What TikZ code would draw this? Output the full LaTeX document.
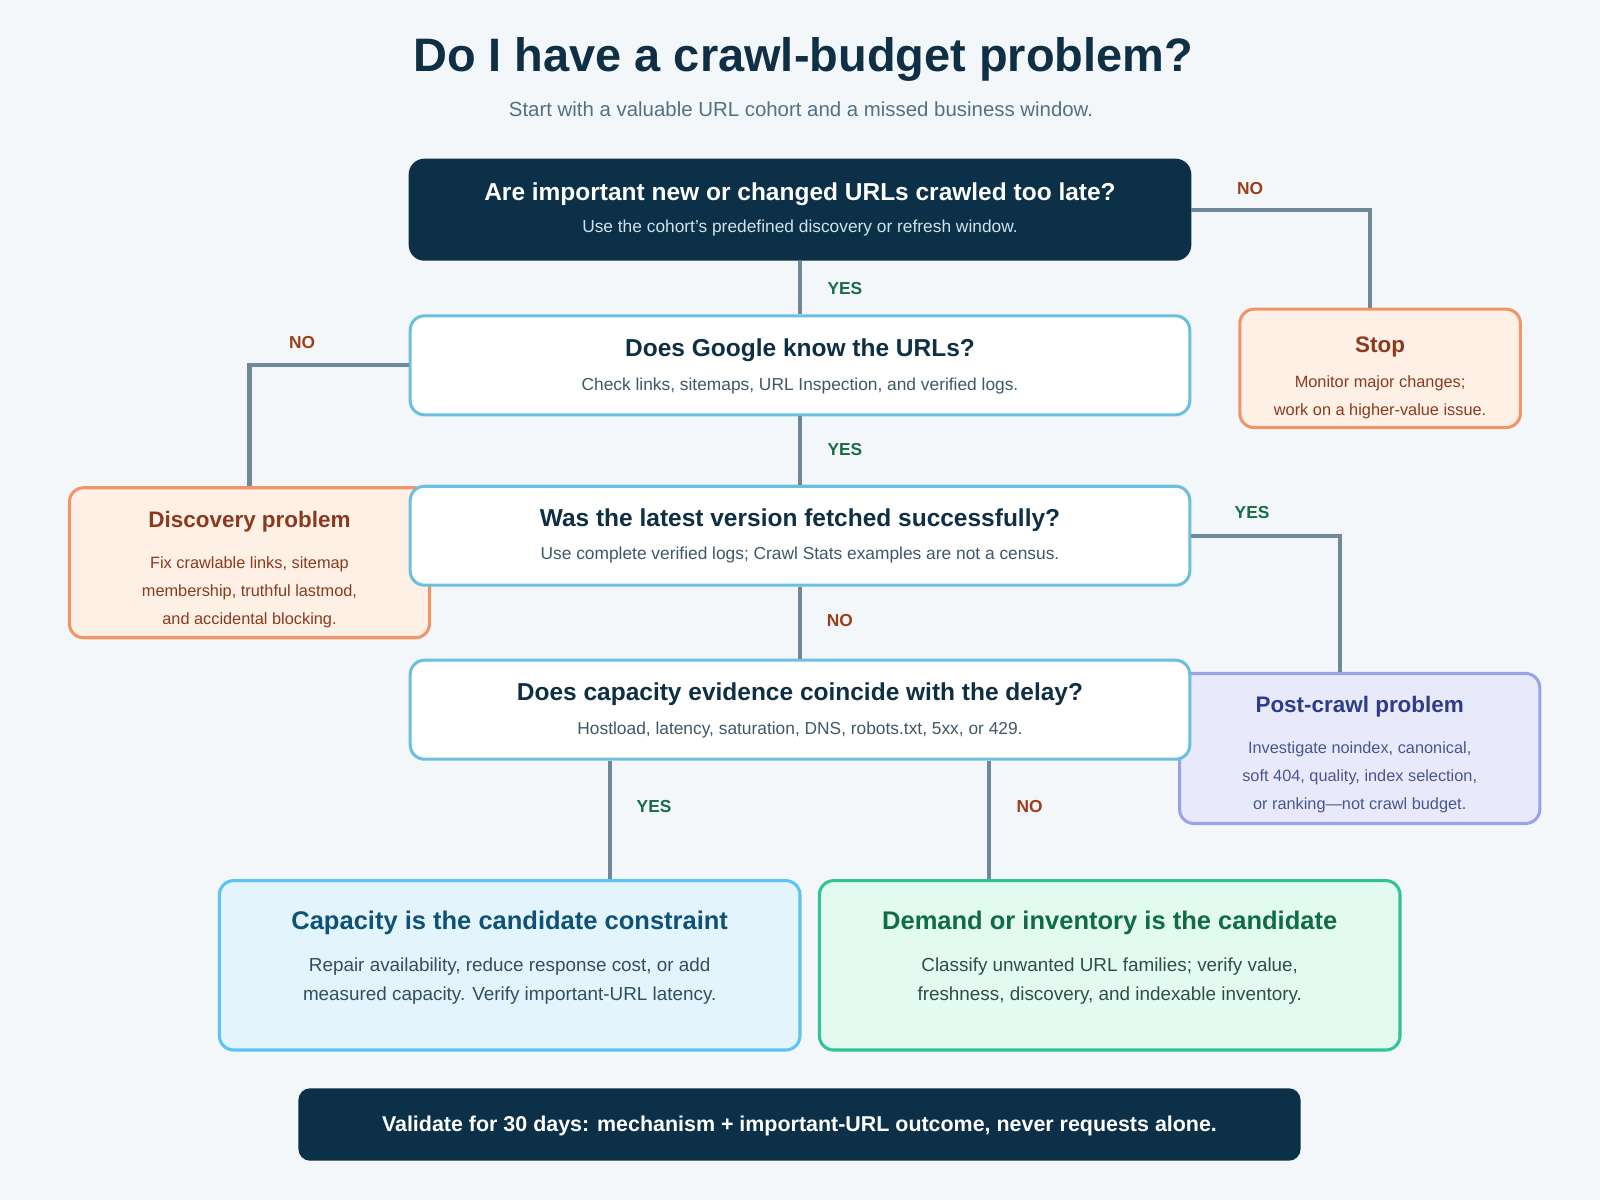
\documentclass[tikz,border=0pt]{standalone}
\usepackage{fontspec}
\setmainfont{Liberation Sans}
\begin{document}
\begin{tikzpicture}[x=1pt,y=-1pt,
 box/.style={draw,line width=3pt,rounded corners=14pt,inner sep=0pt},
 qbox/.style={box,draw=qb,fill=white,minimum width=764pt,minimum height=97pt},
 conn/.style={draw=cn,line width=4pt},
 yes/.style={font=\bfseries\fontsize{17}{20}\selectfont,text=yesc},
 no/.style={font=\bfseries\fontsize{17}{20}\selectfont,text=noc},
 qt/.style={font=\bfseries\fontsize{24}{28}\selectfont,text=qtc},
 qs/.style={font=\fontsize{17}{20}\selectfont,text=qsc},
 st/.style={font=\bfseries\fontsize{22}{26}\selectfont},
 bt/.style={font=\bfseries\fontsize{25}{30}\selectfont},
 sb/.style={font=\fontsize{16}{27.5}\selectfont,align=center},
 bb/.style={font=\fontsize{18.5}{29}\selectfont,align=center}]
\definecolor{bg}{HTML}{F3F7FA}\definecolor{dark}{HTML}{0B3047}
\definecolor{qb}{HTML}{6BBFE0}\definecolor{cn}{HTML}{6E8A99}
\definecolor{qtc}{HTML}{0E2F44}\definecolor{qsc}{HTML}{3F5866}
\definecolor{yesc}{HTML}{1A6B48}\definecolor{noc}{HTML}{9A3F1A}
\definecolor{subc}{HTML}{557080}\definecolor{dsub}{HTML}{CFE3EE}
\definecolor{orf}{HTML}{FFF0E6}\definecolor{ord}{HTML}{F0956A}\definecolor{ort}{HTML}{8B3A1E}
\definecolor{puf}{HTML}{E8EAFC}\definecolor{pud}{HTML}{9AA2E8}\definecolor{put}{HTML}{2E3A8A}\definecolor{pub}{HTML}{4A5590}
\definecolor{blf}{HTML}{E3F4FD}\definecolor{bld}{HTML}{5BC3F5}\definecolor{blt}{HTML}{0F5278}\definecolor{blb}{HTML}{334E5E}
\definecolor{grf}{HTML}{E3FAF1}\definecolor{grd}{HTML}{2EC493}\definecolor{grt}{HTML}{0F6B4A}\definecolor{grb}{HTML}{2F4F46}
\fill[bg] (0,0) rectangle (1568,1176);
\useasboundingbox (0,0) rectangle (1568,1176);
\node[font=\bfseries\fontsize{46}{52}\selectfont,text=qtc] (title) at (787,58) {Do I have a crawl-budget problem?};
\node[font=\fontsize{20}{24}\selectfont,text=subc] (subtitle) at (785,107) {Start with a valuable URL cohort and a missed business window.};
% side boxes
\node[box,draw=ord,fill=orf,minimum width=275pt,minimum height=116pt] (stop) at (1352.5,361) {};
\node[st,text=ort] (stopt) at (1352.5,340) {Stop};
\node[sb,text=ort] (stopb) at (1352.5,389) {Monitor major changes;\\work on a higher-value issue.};
\node[box,draw=ord,fill=orf,minimum width=353pt,minimum height=147pt] (disc) at (244.5,551.5) {};
\node[st,text=ort] (disct) at (244.5,511) {Discovery problem};
\node[sb,text=ort] (discb) at (244.5,580) {Fix crawlable links, sitemap\\membership, truthful lastmod,\\and accidental blocking.};
\node[box,draw=pud,fill=puf,minimum width=353pt,minimum height=147pt] (post) at (1332.5,733.5) {};
\node[st,text=put] (postt) at (1332.5,693) {Post-crawl problem};
\node[sb,text=pub] (postb) at (1332.5,762) {Investigate noindex, canonical,\\soft 404, quality, index selection,\\or ranking---not crawl budget.};
% questions
\node[box,draw=dark,fill=dark,minimum width=764pt,minimum height=97pt] (q1) at (784,205.5) {};
\node[qt,text=white] (q1t) at (784,190) {Are important new or changed URLs crawled too late?};
\node[qs,text=dsub] (q1s) at (784,223) {Use the cohort’s predefined discovery or refresh window.};
\node[qbox] (q2) at (784,358) {};
\node[qt] (q2t) at (784,343) {Does Google know the URLs?};
\node[qs] (q2s) at (784,378) {Check links, sitemaps, URL Inspection, and verified logs.};
\node[qbox] (q3) at (784,525) {};
\node[qt] (q3t) at (784,510) {Was the latest version fetched successfully?};
\node[qs] (q3s) at (784,544) {Use complete verified logs; Crawl Stats examples are not a census.};
\node[qbox] (q4) at (784,695.5) {};
\node[qt] (q4t) at (784,680) {Does capacity evidence coincide with the delay?};
\node[qs] (q4s) at (784,715) {Hostload, latency, saturation, DNS, robots.txt, 5xx, or 429.};
% bottom boxes
\node[box,draw=bld,fill=blf,minimum width=569pt,minimum height=166pt] (cap) at (499.5,946) {};
\node[bt,text=blt] (capt) at (499.5,904) {Capacity is the candidate constraint};
\node[bb,text=blb] (capb) at (499.5,961.5) {Repair availability, reduce response cost, or add\\measured capacity. Verify important-URL latency.};
\node[box,draw=grd,fill=grf,minimum width=569pt,minimum height=166pt] (dem) at (1087.5,946) {};
\node[bt,text=grt] (demt) at (1087.5,904) {Demand or inventory is the candidate};
\node[bb,text=grb] (demb) at (1087.5,961.5) {Classify unwanted URL families; verify value,\\freshness, discovery, and indexable inventory.};
\node[box,draw=dark,fill=dark,rounded corners=10pt,minimum width=979pt,minimum height=68pt] (foot) at (783.5,1102) {};
\node[font=\bfseries\fontsize{21}{25}\selectfont,text=white] (foott) at (783.5,1103) {Validate for 30 days: mechanism + important-URL outcome, never requests alone.};
% connectors
\begin{scope}[on background layer/.style={}]
\end{scope}
\draw[conn] ([xshift=-10pt]stop.north) |- (q1.east);
\draw[conn] (q1.south) -- (q2.north);
\draw[conn] (disc.north) |- (q2.west);
\draw[conn] (q2.south) -- (q3.north);
\draw[conn] ([xshift=-19pt]post.north) |- (q3.east);
\draw[conn] (q3.south) -- (q4.north);
\draw[conn] ([xshift=-186pt]q4.south) -- ([xshift=-186pt]q4.south |- cap.north);
\draw[conn] ([xshift=185pt]q4.south) -- ([xshift=185pt]q4.south |- dem.north);
% labels
\node[no] (l1) at (1225,185) {NO};
\node[yes] (l2) at (828,283) {YES};
\node[no] (l3) at (296,336) {NO};
\node[yes] (l4) at (828,441) {YES};
\node[yes] (l5) at (1227,502) {YES};
\node[no] (l6) at (823,608) {NO};
\node[yes] (l7) at (641,790) {YES};
\node[no] (l8) at (1009,790) {NO};
\end{tikzpicture}
\end{document}
